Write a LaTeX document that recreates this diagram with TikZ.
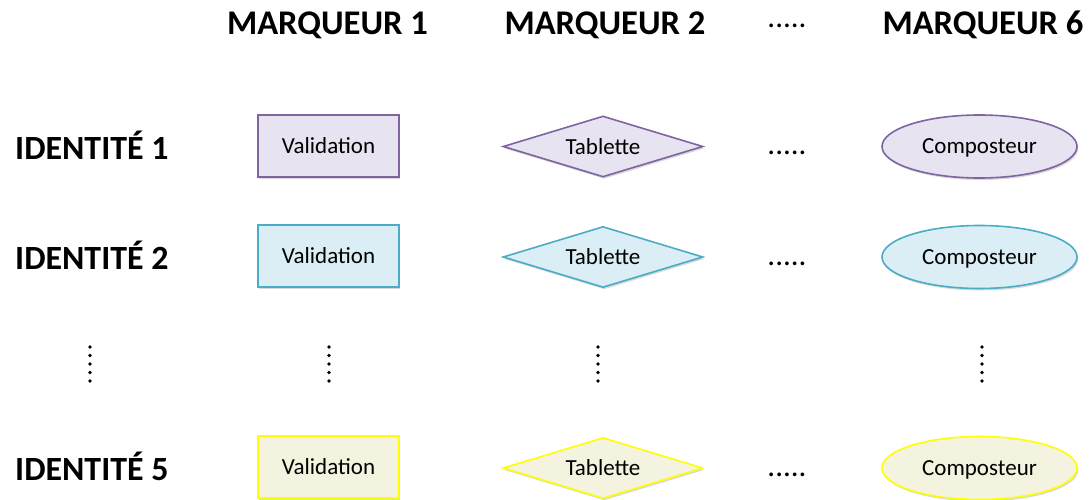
\documentclass[tikz,border=0pt]{standalone}
\usepackage{fontspec}
\setmainfont{Carlito}
\usetikzlibrary{shapes.geometric,shadows}
\definecolor{purpS}{RGB}{128,100,162}
\definecolor{purpF}{RGB}{232,227,240}
\definecolor{blueS}{RGB}{75,172,198}
\definecolor{blueF}{RGB}{220,238,245}
\definecolor{yelS}{RGB}{255,255,0}
\definecolor{yelF}{RGB}{244,243,224}
\tikzset{
  hdr/.style={font=\fontsize{34.6}{40}\selectfont\bfseries, anchor=base, inner sep=0pt},
  rowlbl/.style={font=\fontsize{33.9}{40}\selectfont\bfseries, anchor=base west, inner sep=0pt},
  ell/.style={font=\fontsize{31}{36}\selectfont, anchor=base, inner sep=0pt},
  shp/.style={font=\fontsize{23}{27}\selectfont, line width=1.6pt, inner sep=0pt, text depth=0pt,
     drop shadow={shadow xshift=1.2pt, shadow yshift=-2pt, opacity=0.25, fill=black!60}},
  box/.style={shp, rectangle, minimum width=141pt, minimum height=62pt},
  dia/.style={shp, diamond, aspect=3.3, minimum width=200pt, minimum height=61pt},
  oval/.style={shp, ellipse, minimum width=195pt, minimum height=63pt},
  vdot/.style={circle, fill=black, inner sep=0pt, minimum size=3.6pt},
}
\newcommand{\mydotcol}[2]{%
  \foreach \k in {0,...,4} {\node[vdot] (#1-\k) at (#2, 347+8.5*\k) {};}%
}
\begin{document}
\begin{tikzpicture}[x=1pt,y=-1pt]
\useasboundingbox (0,0) rectangle (1090,500);
% headers
\node[hdr] (h1) at (327.5,35) {MARQUEUR 1};
\node[hdr] (h2) at (605,35) {MARQUEUR 2};
\node[ell] (hd) at (787,28) {.....};
\node[hdr] (h6) at (983,35) {MARQUEUR 6};
% row labels
\node[rowlbl] (r1) at (15,159.5) {IDENTITÉ 1};
\node[rowlbl] (r2) at (15,269.5) {IDENTITÉ 2};
\node[rowlbl] (r5) at (15,480.5) {IDENTITÉ 5};
% row 1
\node[box, draw=purpS, fill=purpF] (v1) at (328.5,146) {Validation};
\node[dia, draw=purpS, fill=purpF] (t1) at (603,146.5) {Tablette};
\node[ell] (d1) at (787,155) {.....};
\node[oval, draw=purpS, fill=purpF] (c1) at (979.5,146.5) {Composteur};
% row 2
\node[box, draw=blueS, fill=blueF] (v2) at (328.5,256) {Validation};
\node[dia, draw=blueS, fill=blueF] (t2) at (603,257) {Tablette};
\node[ell] (d2) at (787,265) {.....};
\node[oval, draw=blueS, fill=blueF] (c2) at (979.5,257) {Composteur};
% row 5
\node[box, draw=yelS, fill=yelF] (v5) at (328.5,467) {Validation};
\node[dia, draw=yelS, fill=yelF] (t5) at (603,468) {Tablette};
\node[ell] (d5) at (787,476) {.....};
\node[oval, draw=yelS, fill=yelF] (c5) at (979.5,468) {Composteur};
% vertical dots
\mydotcol{va}{90}
\mydotcol{vb}{329}
\mydotcol{vc}{598}
\mydotcol{vd}{982}
\end{tikzpicture}
\end{document}
